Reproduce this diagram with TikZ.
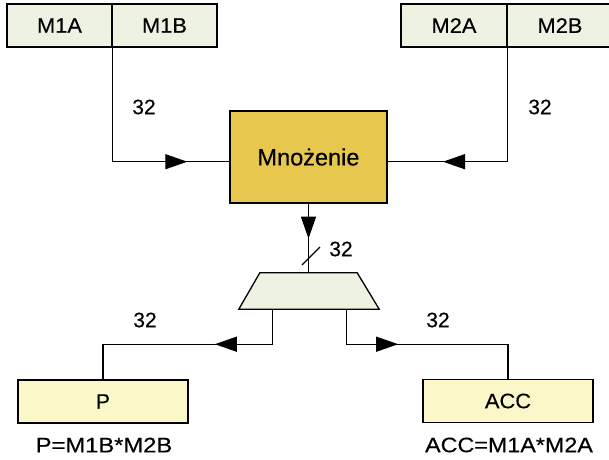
\documentclass[tikz,border=0pt]{standalone}
\usepackage{fontspec}
\setmainfont{Liberation Sans}[FakeBold=0.3]
\usetikzlibrary{arrows.meta,decorations.markings}

\definecolor{regfill}{RGB}{238,242,226}
\definecolor{mulfill}{RGB}{232,199,79}
\definecolor{outfill}{RGB}{251,247,201}

% horizontally widened text, as in the figure's lettering
\newcommand{\wide}[2][1.04]{\scalebox{#1}[1]{#2}}

\tikzset{
  box/.style={draw=black, line width=1.3pt, inner sep=0pt, anchor=center,
              font=\fontsize{21}{23}\selectfont},
  regbox/.style={box, fill=regfill, minimum width=105pt, minimum height=43pt},
  outbox/.style={box, fill=outfill, minimum width=170pt, minimum height=43pt},
  mulbox/.style={box, fill=mulfill, minimum width=157pt, minimum height=92pt,
                 font=\fontsize{23.5}{25}\selectfont},
  wire/.style={draw=black, line width=1.2pt},
  lbl/.style={font=\fontsize{21}{23}\selectfont, inner sep=0pt},
  eqn/.style={font=\fontsize{21}{23}\selectfont, inner sep=0pt},
  tipat/.style={postaction={decorate}, decoration={markings,
      mark=at position #1 with {\arrow{Triangle[length=22pt,width=15pt]}}}}
}

\begin{document}
\begin{tikzpicture}[x=1pt,y=-1pt]
  \useasboundingbox (0,0) rectangle (609,459);

  % operand registers
  \node[regbox] (m1a) at (59.5,25.5)  {\wide{M1A}};
  \node[regbox] (m1b) at (164.5,25.5) {\wide{M1B}};
  \node[regbox, minimum width=106pt] (m2a) at (454,25.5) {\wide{M2A}};
  \node[regbox, minimum width=106pt] (m2b) at (560,25.5) {\wide{M2B}};

  % multiplier
  \node[mulbox] (mul) at (308.5,157) {Mnożenie};

  % demultiplexer
  \node[inner sep=0pt, minimum width=140pt, minimum height=36pt] (mux) at (309,291) {};
  \draw[line width=1.3pt, fill=regfill]
    (mux.south west) -- (mux.south east) -- ([xshift=-22pt]mux.north east)
    -- ([xshift=21pt]mux.north west) -- cycle;

  % result registers
  \node[outbox] (p)   at (103,401.5) {P};
  \node[outbox] (acc) at (508,401)   {\wide{ACC}};

  % operand buses
  \path[wire, tipat=188.7pt] (m1a.south east) |- ([yshift=-4.7pt]mul.west);
  \path[wire, tipat=178.7pt] (m2a.south east) |- ([yshift=-4.7pt]mul.east);

  % product bus with width slash
  \path[wire, tipat=35pt] (mul.south) -- (mul.south |- mux.north);
  \coordinate (sl) at (311,256);
  \draw[line width=1.2pt] ([shift={(-9pt,-9pt)}]sl) -- ([shift={(9pt,9pt)}]sl);

  % outputs
  \path[wire, tipat=93pt] ([xshift=34pt]mux.south west) -- ++(0,35) -| (p.north);
  \path[wire, tipat=87pt] ([xshift=-33pt]mux.south east) -- ++(0,35) -| (acc.north);

  % bus widths
  \node[lbl] (w1) at (144,107) {32};
  \node[lbl] (w2) at (540,107) {32};
  \node[lbl] (w3) at (341,249) {32};
  \node[lbl] (w4) at (145,320) {32};
  \node[lbl] (w5) at (438,320) {32};

  % result equations
  \node[eqn] (e1) at (104,445) {\wide[1.13]{P=M1B*M2B}};
  \node[eqn] (e2) at (509,445) {\wide[1.11]{ACC=M1A*M2A}};
\end{tikzpicture}
\end{document}
